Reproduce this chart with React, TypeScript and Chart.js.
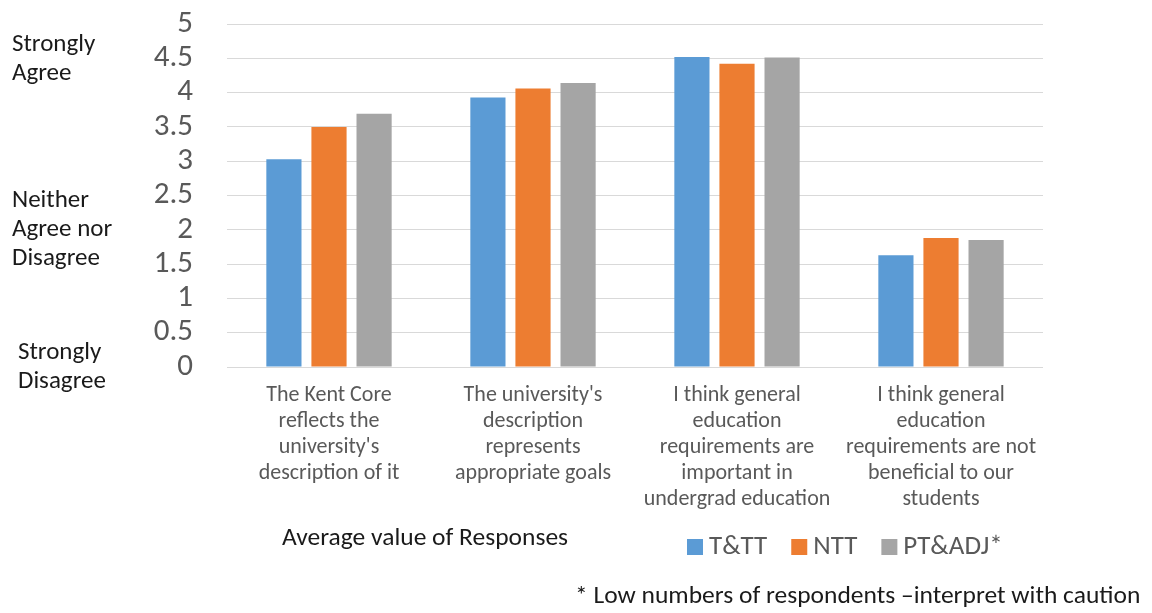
import React, { useEffect, useRef } from "react";
import { Chart, registerables } from "chart.js";

Chart.register(...registerables);

const categories: string[][] = [
  ["The Kent Core", "reflects the", "university's", "description of it"],
  ["The university's", "description", "represents", "appropriate goals"],
  ["I think general", "education", "requirements are", "important in", "undergrad education"],
  ["I think general", "education", "requirements are not", "beneficial to our", "students"],
];
const seriesNames = ["T&TT", "NTT", "PT&ADJ*"];
const ttValues = [3.03, 3.93, 4.52, 1.63];
const nttValues = [3.5, 4.06, 4.42, 1.88];
const ptValues = [3.69, 4.14, 4.51, 1.85];
const seriesColors = ["#5B9BD5", "#ED7D31", "#A5A5A5"];
const yMin = 0;
const yMax = 5;
const yStep = 0.5;
const scaleNotes: { value: number; lines: string[] }[] = [
  { value: 4.5, lines: ["Strongly", "Agree"] },
  { value: 2.0, lines: ["Neither", "Agree nor", "Disagree"] },
  { value: 0, lines: ["Strongly", "Disagree"] },
];
const axisTitle = "Average value of Responses";
const footnote = "* Low numbers of respondents \u2013interpret with caution";

const FONT = "Carlito, Lato, 'Open Sans', sans-serif";

const annotations = {
  id: "annotations",
  afterDraw(chart: any) {
    const ctx = chart.ctx as CanvasRenderingContext2D;
    const y = chart.scales.y;
    ctx.save();
    ctx.textBaseline = "middle";
    ctx.textAlign = "left";
    ctx.fillStyle = "#1a1a1a";
    ctx.font = `25px ${FONT}`;
    scaleNotes.forEach((n, i) => {
      const cy = y.getPixelForValue(n.value) + (i === 0 ? 1 : i === 1 ? 0 : 0);
      const lh = 29;
      const start = cy - ((n.lines.length - 1) * lh) / 2;
      const x = i === 2 ? 18 : 12;
      n.lines.forEach((l, j) => ctx.fillText(l, x, start + j * lh));
    });
    ctx.font = `25.5px ${FONT}`;
    ctx.fillText(axisTitle, 282, 539);
    ctx.fillText(footnote, 575, 597);
    // legend
    ctx.font = `27px ${FONT}`;
    let lx = 687;
    chart.data.datasets.forEach((ds: any) => {
      ctx.fillStyle = ds.backgroundColor;
      ctx.fillRect(lx, 539, 16, 16);
      ctx.fillStyle = "#595959";
      ctx.fillText(ds.label, lx + 22, 547);
      lx += 22 + ctx.measureText(ds.label).width + 24;
    });
    ctx.restore();
  },
};

export default function App() {
  const ref = useRef<HTMLCanvasElement>(null);
  useEffect(() => {
    const values = [ttValues, nttValues, ptValues];
    const chart = new Chart(ref.current!, {
      type: "bar",
      data: {
        labels: categories,
        datasets: seriesNames.map((name, i) => ({
          label: name,
          data: values[i],
          backgroundColor: seriesColors[i],
          categoryPercentage: 0.663,
          barPercentage: 0.78,
        })),
      },
      options: {
        animation: false,
        responsive: false,
        devicePixelRatio: 1,
        layout: { padding: { left: 0, right: 109, top: 24, bottom: 0 } },
        plugins: { legend: { display: false }, tooltip: { enabled: false } },
        scales: {
          x: {
            grid: { display: false, drawTicks: false },
            border: { display: false },
            ticks: {
              color: "#595959",
              font: { family: FONT, size: 22, lineHeight: 1.18 },
              padding: 16,
              maxRotation: 0,
              autoSkip: false,
            },
            afterFit: (s: any) => {
              s.height = 246;
              s.paddingLeft = 0;
              s.paddingRight = 0;
            },
          },
          y: {
            min: yMin,
            max: yMax,
            grid: { color: "#D9D9D9", drawTicks: false, lineWidth: 1 },
            border: { display: false },
            ticks: {
              stepSize: yStep,
              autoSkip: false,
              color: "#595959",
              font: { family: FONT, size: 31 },
              padding: 34,
              callback: (v: any) => String(Number(v)),
            },
            afterFit: (s: any) => {
              s.width = 227;
              s.paddingTop = 0;
              s.paddingBottom = 0;
            },
          },
        },
      },
      plugins: [annotations],
    });
    return () => chart.destroy();
  }, []);
  return (
    <div style={{ position: "fixed", left: 0, top: 0, width: 1152, height: 613, background: "#fff" }}>
      <canvas ref={ref} width={1152} height={613} />
    </div>
  );
}
